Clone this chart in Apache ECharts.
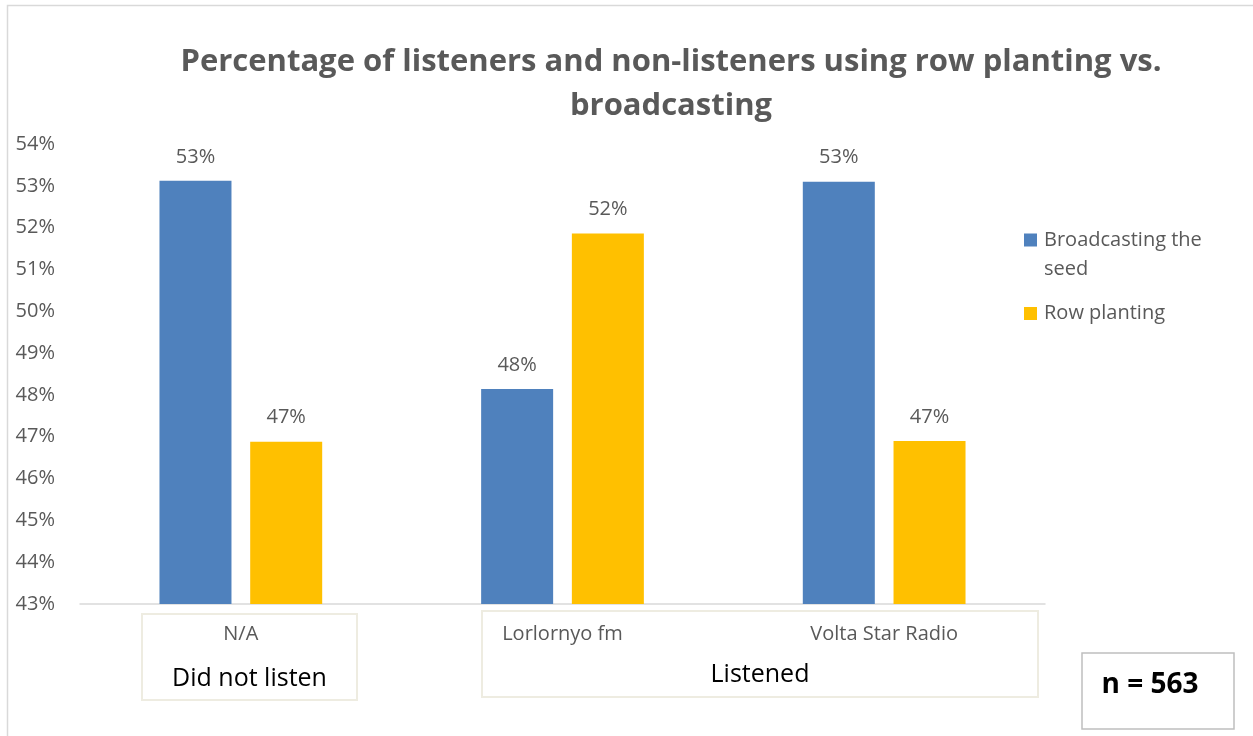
<!DOCTYPE html>
<html>
<head>
<meta charset="utf-8">
<script src="https://cdn.jsdelivr.net/npm/echarts@6/dist/echarts.min.js"></script>
<style>
  html, body { margin: 0; padding: 0; background: #ffffff; }
  #chart { width: 1253px; height: 736px; }
</style>
</head>
<body>
<div id="chart"></div>
<script>
// Stations heard by respondents, grouped under listening status
const categories = ['N/A', 'Lorlornyo fm', 'Volta Star Radio'];
// Share of respondents (%) per sowing method
const broadcastingSeed = [53.12, 48.14, 53.10];
const rowPlanting = [46.88, 51.86, 46.90];
const seriesNames = ['Broadcasting the seed', 'Row planting'];
// Y axis range (%)
const yMin = 43, yMax = 54, yStep = 1;
const sampleNote = 'n = 563';

const BASE_FONT = '"Open Sans", "Noto Sans", sans-serif';
const GREY = '#595959';
const BOX = '#eeece1';

const chart = echarts.init(document.getElementById('chart'), null, { renderer: 'canvas' });

const barLabel = {
  show: true,
  position: 'top',
  distance: 14,
  color: GREY,
  fontFamily: BASE_FONT,
  fontSize: 20,
  formatter: p => Math.round(p.value) + '%'
};

const option = {
  backgroundColor: '#ffffff',
  animation: false,
  title: {
    text: 'Percentage of listeners and non-listeners using row planting vs.\nbroadcasting',
    left: 666,
    top: 35,
    textAlign: 'center',
    textStyle: {
      color: GREY,
      fontFamily: BASE_FONT,
      fontWeight: 'bold',
      fontSize: 31,
      lineHeight: 44
    }
  },
  legend: [
    {
      data: [{ name: seriesNames[0], icon: 'path://M0,0H13V13H0Z M0,42' }],
      orient: 'vertical',
      left: 1024,
      top: 225.5,
      padding: 0,
      itemWidth: 13,
      itemHeight: 42,
      formatter: () => 'Broadcasting the\nseed',
      textStyle: { color: GREY, fontFamily: BASE_FONT, fontSize: 20, lineHeight: 29, padding: [0, 0, 0, 2] }
    },
    {
      data: [{ name: seriesNames[1], icon: 'rect' }],
      orient: 'vertical',
      left: 1024,
      top: 299,
      padding: 0,
      itemWidth: 13,
      itemHeight: 13,
      textStyle: { color: GREY, fontFamily: BASE_FONT, fontSize: 20, lineHeight: 29, padding: [0, 0, 0, 2] }
    }
  ],
  grid: { left: 80, right: 208, top: 144, bottom: 132, containLabel: false },
  xAxis: {
    type: 'category',
    data: categories,
    axisLine: { show: true, lineStyle: { color: '#d9d9d9', width: 1.5 } },
    axisTick: { show: false },
    axisLabel: { color: GREY, fontFamily: BASE_FONT, fontSize: 20, margin: 20 }
  },
  yAxis: {
    type: 'value',
    min: yMin,
    max: yMax,
    interval: yStep,
    axisLine: { show: false },
    axisTick: { show: false },
    splitLine: { show: false },
    axisLabel: {
      color: GREY,
      fontFamily: BASE_FONT,
      fontSize: 20,
      margin: 25,
      formatter: v => v + '%'
    }
  },
  series: [
    {
      name: seriesNames[0],
      type: 'bar',
      data: broadcastingSeed,
      barWidth: 72,
      barGap: '26%',
      itemStyle: { color: '#4f81bd' },
      label: barLabel
    },
    {
      name: seriesNames[1],
      type: 'bar',
      data: rowPlanting,
      barWidth: 72,
      barGap: '26%',
      itemStyle: { color: '#ffc000' },
      label: barLabel
    }
  ],
  graphic: [
    // outer chart frame
    { type: 'rect', silent: true, shape: { x: 7.5, y: 5.5, width: 1260, height: 740 },
      style: { fill: 'none', stroke: '#d9d9d9', lineWidth: 1.5 } },
    // group boxes beneath the category labels
    { type: 'rect', silent: true, shape: { x: 142, y: 614, width: 215, height: 86 },
      style: { fill: 'none', stroke: BOX, lineWidth: 2 } },
    { type: 'rect', silent: true, shape: { x: 482, y: 611, width: 556, height: 86 },
      style: { fill: 'none', stroke: BOX, lineWidth: 2 } },
    { type: 'text', silent: true, x: 249.5, y: 679,
      style: { text: 'Did not listen', fill: '#000000', font: '25px ' + BASE_FONT, textAlign: 'center', textVerticalAlign: 'middle' } },
    { type: 'text', silent: true, x: 760, y: 675,
      style: { text: 'Listened', fill: '#000000', font: '25px ' + BASE_FONT, textAlign: 'center', textVerticalAlign: 'middle' } },
    // sample size note
    { type: 'rect', silent: true, shape: { x: 1082, y: 653, width: 152, height: 76 },
      style: { fill: '#ffffff', stroke: '#bfbfbf', lineWidth: 1.5 } },
    { type: 'text', silent: true, x: 1150, y: 685,
      style: { text: sampleNote, fill: '#000000', font: 'bold 28px ' + BASE_FONT, textAlign: 'center', textVerticalAlign: 'middle' } }
  ]
};

chart.setOption(option);
</script>
</body>
</html>
